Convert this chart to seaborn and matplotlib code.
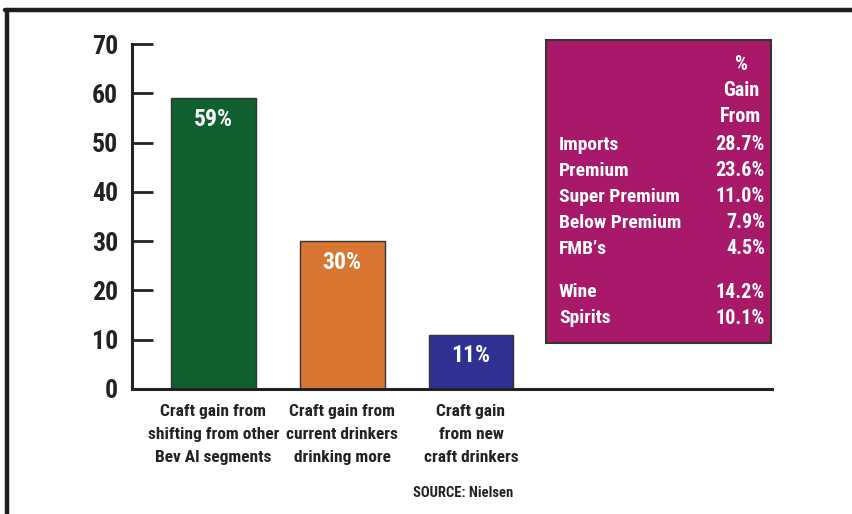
import matplotlib
matplotlib.use("Agg")
import matplotlib.pyplot as plt
import seaborn as sns
import pandas as pd
from matplotlib.patches import Rectangle
from matplotlib.lines import Line2D

categories = ["Craft gain from\nshifting from other\nBev Al segments",
              "Craft gain from\ncurrent drinkers\ndrinking more",
              "Craft gain\nfrom new\ncraft drinkers"]
values = [59, 30, 11]
bar_labels = ["59%", "30%", "11%"]
bar_colors = ["#0F5F2F", "#D97634", "#2E3192"]
yticks = [0, 10, 20, 30, 40, 50, 60, 70]

box_header = ["%", "Gain", "From"]
box_names = ["Imports", "Premium", "Super Premium", "Below Premium", "FMB\u2019s", "Wine", "Spirits"]
box_values = ["28.7%", "23.6%", "11.0%", "7.9%", "4.5%", "14.2%", "10.1%"]

sns.set_theme(style="white")
plt.rcParams['font.family'] = ['Roboto Condensed', 'PT Sans Narrow', 'Archivo Narrow', 'DejaVu Sans']
plt.rcParams['font.weight'] = 'bold'

W, H = 853, 514
fig = plt.figure(figsize=(W / 100, H / 100), dpi=100)
fig.patch.set_facecolor("white")

ax_left, ax_right = 132, 772
ax_top, ax_bot = 44, 389
ax = fig.add_axes([ax_left / W, 1 - ax_bot / H, (ax_right - ax_left) / W, (ax_bot - ax_top) / H])

df = pd.DataFrame({"cat": categories, "val": values})
sns.barplot(data=df, x="cat", y="val", hue="cat", palette=bar_colors, legend=False,
            width=0.66, edgecolor="#333333", linewidth=1.0, saturation=1, ax=ax)

ax.set_xlim(-0.633, 4.338)
ax.set_ylim(0, 70)
ax.set_yticks(yticks)
ax.set_yticklabels([str(t) for t in yticks], fontsize=18.5, fontweight='bold', color="#222222")
ax.tick_params(axis='y', direction='in', length=15, width=2, color="#222222", pad=10, left=True)
ax.tick_params(axis='x', length=0, pad=11)
ax.set_xticks(range(len(categories)))
ax.set_xticklabels(categories, fontsize=12.5, fontweight='bold', color="#222222")
for t in ax.get_xticklabels():
    t.set_linespacing(1.65)
ax.set_xlabel("")
ax.set_ylabel("")
for s in ["top", "right"]:
    ax.spines[s].set_visible(False)
for s in ["left", "bottom"]:
    ax.spines[s].set_visible(True)
    ax.spines[s].set_color("#222222")
    ax.spines[s].set_linewidth(2.2)
ax.set_facecolor("none")

for i, (v, lab) in enumerate(zip(values, bar_labels)):
    ax.annotate(lab, (i, v), xytext=(0, -21), textcoords="offset pixels",
                ha="center", va="center", color="white", fontsize=17, fontweight='bold')

# Purple box
bx0, by0, bx1, by1 = 546, 40, 771, 343
fig.patches.append(Rectangle((bx0 / W, 1 - by1 / H), (bx1 - bx0) / W, (by1 - by0) / H,
                             transform=fig.transFigure, facecolor="#A8196A",
                             edgecolor="#333333", linewidth=1.5, zorder=5))
hdr_y = [65, 91, 117]
for t, y in zip(box_header, hdr_y):
    fig.text(741 / W, 1 - y / H, t, ha="center", va="center", color="white",
             fontsize=14.5, fontweight='bold', zorder=6)
row_y = [145, 171, 197, 223, 249, 292, 318]
for n, v, y in zip(box_names, box_values, row_y):
    fig.text(559 / W, 1 - y / H, n, ha="left", va="center", color="white",
             fontsize=14, fontweight='bold', zorder=6)
    fig.text(765 / W, 1 - y / H, v, ha="right", va="center", color="white",
             fontsize=14.5, fontweight='bold', zorder=6)

fig.text(463 / W, 1 - 493 / H, "SOURCE: Nielsen", ha="center", va="center",
         color="#222222", fontsize=10.5, fontweight='bold')

# Frame lines
fig.lines.append(Line2D([7 / W, 7 / W], [0, 1 - 9.5 / H], transform=fig.transFigure,
                        color="#1E1E1E", linewidth=3.2))
fig.lines.append(Line2D([5 / W, 1], [1 - 9.5 / H, 1 - 9.5 / H], transform=fig.transFigure,
                        color="#1E1E1E", linewidth=3.2))

fig.savefig("out.png", dpi=100, facecolor="white")
